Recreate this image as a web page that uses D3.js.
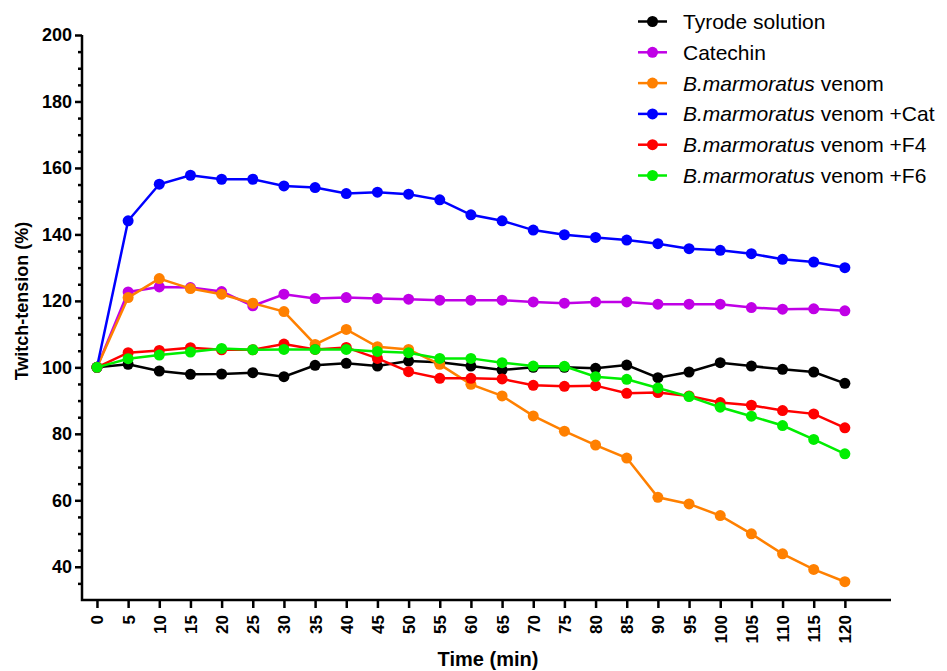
<!DOCTYPE html>
<html>
<head>
<meta charset="utf-8">
<script src="https://cdn.jsdelivr.net/npm/d3@7"></script>
<style>
  html, body { margin: 0; padding: 0; background: #fff; }
  svg { display: block; font-family: "Liberation Sans", Arial, sans-serif; }
</style>
</head>
<body>
<svg id="chart" width="947" height="671"></svg>
<script>
// Time points (min)
const times = [0, 5, 10, 15, 20, 25, 30, 35, 40, 45, 50, 55, 60, 65, 70, 75, 80, 85, 90, 95, 100, 105, 110, 115, 120];

// Twitch-tension (% of initial) for each treatment
const tyrode   = [100, 100.9, 98.9, 97.9, 98.0, 98.4, 97.2, 100.6, 101.2, 100.4, 101.9, 101.5, 100.4, 99.2, 100.0, 100.0, 99.7, 100.7, 96.9, 98.6, 101.4, 100.4, 99.4, 98.6, 95.2];
const catechin = [100, 122.7, 124.2, 124.0, 122.8, 118.5, 122.0, 120.7, 121.0, 120.7, 120.5, 120.2, 120.2, 120.2, 119.7, 119.3, 119.7, 119.7, 119.0, 119.0, 119.0, 118.0, 117.5, 117.6, 117.0];
const venom    = [100, 121.0, 126.7, 123.7, 122.0, 119.3, 116.8, 106.9, 111.4, 106.2, 105.4, 100.9, 94.9, 91.4, 85.4, 80.8, 76.6, 72.7, 60.9, 58.9, 55.4, 49.9, 43.9, 39.2, 35.5];
const venomCat = [100, 144.1, 155.1, 157.8, 156.6, 156.6, 154.6, 154.1, 152.3, 152.7, 152.1, 150.4, 145.9, 144.1, 141.3, 139.9, 139.1, 138.3, 137.2, 135.7, 135.2, 134.2, 132.5, 131.7, 130.0];
const venomF4  = [100, 104.4, 105.1, 105.9, 105.3, 105.3, 107.0, 105.4, 106.0, 102.7, 98.7, 96.7, 96.7, 96.5, 94.6, 94.3, 94.5, 92.2, 92.4, 91.4, 89.4, 88.6, 87.0, 86.0, 81.8];
const venomF6  = [100, 102.6, 103.7, 104.6, 105.7, 105.3, 105.4, 105.4, 105.4, 104.8, 104.4, 102.7, 102.7, 101.4, 100.4, 100.3, 97.2, 96.4, 93.8, 91.2, 88.0, 85.3, 82.5, 78.3, 74.0];

// Legend labels: italic part + plain part
const seriesItalic = ["", "", "B.marmoratus", "B.marmoratus", "B.marmoratus", "B.marmoratus"];
const seriesPlain  = ["Tyrode solution", "Catechin", " venom", " venom +Cat", " venom +F4", " venom +F6"];
const seriesColors = ["#000000", "#c000e6", "#ff8000", "#0000ff", "#ff0000", "#00ee00"];
const seriesValues = [tyrode, catechin, venom, venomCat, venomF4, venomF6];

// Axis ticks
const yMajorTicks = [40, 60, 80, 100, 120, 140, 160, 180, 200];
const yMinorTicks = d3.range(35, 200, 5).filter(v => v % 20 !== 0);

const svg = d3.select("#chart");

const x = d3.scaleLinear().domain([-2.4, 127.4]).range([82, 891]);
const y = d3.scaleLinear().domain([30, 200]).range([600, 35]);

const axisColor = "#000";

// Y axis (major ticks with labels)
const yAxis = svg.append("g")
  .attr("transform", `translate(${x.range()[0]},0)`)
  .call(d3.axisLeft(y).tickValues(yMajorTicks).tickSize(7).tickPadding(3).tickFormat(d3.format("d")));
yAxis.select(".domain").remove();
yAxis.selectAll(".tick line").attr("stroke", axisColor).attr("stroke-width", 2.5);
yAxis.selectAll(".tick text")
  .attr("fill", "#000").style("font-size", "18px").style("font-weight", "bold");

// Y minor ticks
svg.append("g")
  .attr("transform", `translate(${x.range()[0]},0)`)
  .call(d3.axisLeft(y).tickValues(yMinorTicks).tickSize(4).tickFormat(""))
  .call(g => g.select(".domain").remove())
  .selectAll(".tick line").attr("stroke", axisColor).attr("stroke-width", 2.5);

// X axis
const xAxis = svg.append("g")
  .attr("transform", `translate(0,${y.range()[0]})`)
  .call(d3.axisBottom(x).tickValues(times).tickSize(8).tickFormat(d3.format("d")));
xAxis.select(".domain").remove();
xAxis.selectAll(".tick line").attr("stroke", axisColor).attr("stroke-width", 2.5);
xAxis.selectAll(".tick text")
  .attr("fill", "#000")
  .style("font-size", "17px").style("font-weight", "bold")
  .attr("text-anchor", "end")
  .attr("transform", "rotate(-90)")
  .attr("x", -15).attr("y", 0).attr("dy", "0.35em");

// Axis lines forming the corner
svg.append("path")
  .attr("d", `M${x.range()[0]},${y.range()[1]} V${y.range()[0]} H${x.range()[1]}`)
  .attr("fill", "none").attr("stroke", axisColor).attr("stroke-width", 2.5);

// Axis titles
svg.append("text")
  .attr("x", 488).attr("y", 666)
  .attr("text-anchor", "middle")
  .style("font-size", "20px").style("font-weight", "bold")
  .text("Time (min)");

svg.append("text")
  .attr("transform", "translate(28,301) rotate(-90)")
  .attr("text-anchor", "middle")
  .style("font-size", "18px").style("font-weight", "bold")
  .text("Twitch-tension (%)");

// Series lines and markers
const line = d3.line().x((d, i) => x(times[i])).y(d => y(d));

seriesValues.forEach((vals, si) => {
  const g = svg.append("g");
  g.append("path")
    .datum(vals)
    .attr("d", line)
    .attr("fill", "none")
    .attr("stroke", seriesColors[si])
    .attr("stroke-width", 2.5);
  g.selectAll("circle")
    .data(vals)
    .join("circle")
    .attr("cx", (d, i) => x(times[i]))
    .attr("cy", d => y(d))
    .attr("r", 5.5)
    .attr("fill", seriesColors[si]);
});

// Legend
const legend = svg.append("g");
seriesPlain.forEach((label, i) => {
  const cy = 21.5 + i * 30.8;
  legend.append("line")
    .attr("x1", 638).attr("x2", 667).attr("y1", cy).attr("y2", cy)
    .attr("stroke", seriesColors[i]).attr("stroke-width", 2.5);
  legend.append("circle")
    .attr("cx", 652.5).attr("cy", cy).attr("r", 5.5)
    .attr("fill", seriesColors[i]);
  const t = legend.append("text")
    .attr("x", 683).attr("y", cy).attr("dy", "0.36em")
    .style("font-size", "21px");
  if (seriesItalic[i]) t.append("tspan").style("font-style", "italic").text(seriesItalic[i]);
  t.append("tspan").text(label);
});
</script>
</body>
</html>
